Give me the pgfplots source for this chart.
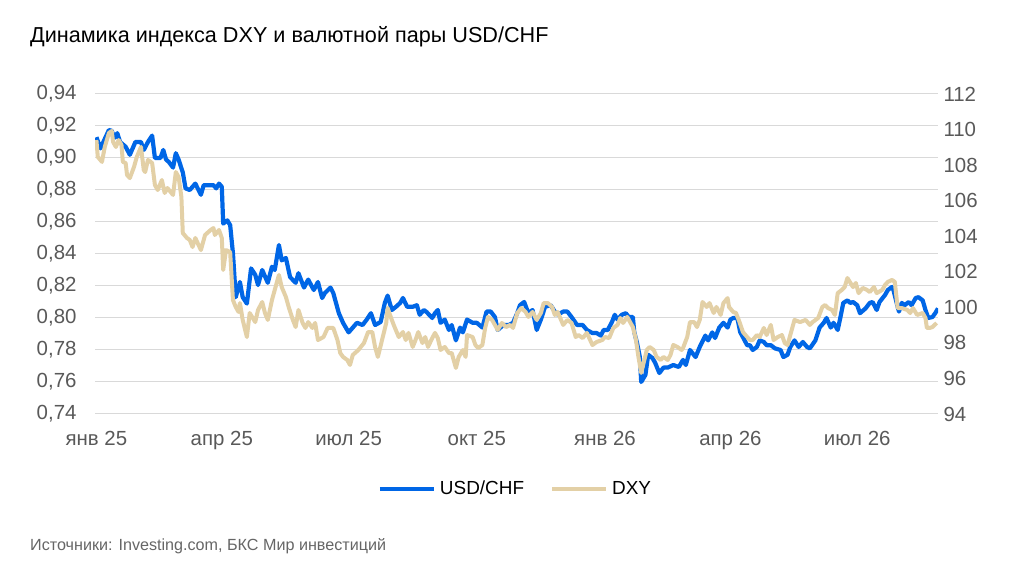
\documentclass[border=0pt]{standalone}
\usepackage{fontspec}
\setmainfont{Liberation Sans}
\usepackage{pgfplots}
\pgfplotsset{compat=1.18}
\definecolor{usdchf}{HTML}{0066E6}
\definecolor{dxy}{HTML}{E3D0A6}
\definecolor{gridc}{HTML}{D9D9D9}
\definecolor{tickc}{HTML}{595959}
\definecolor{srcc}{HTML}{666666}
\pgfplotstableread{
d v
0 0.913
3 0.906
5 0.910
9 0.9175
11 0.917
13 0.9125
15 0.9155
17 0.910
21 0.907
24 0.902
28 0.910
32 0.910
34 0.905
37 0.910
40 0.914
42 0.900
46 0.900
48 0.905
50 0.899
52 0.8975
55 0.894
57 0.903
59 0.899
62 0.891
64 0.881
67 0.880
71 0.884
75 0.877
77 0.883
80 0.883
84 0.883
86 0.881
88 0.884
90 0.882
91 0.859
94 0.861
96 0.858
98 0.8405
100 0.813
103 0.8225
105 0.813
108 0.809
111 0.831
114 0.827
116 0.8206
119 0.830
123 0.822
126 0.832
128 0.830
131 0.8456
133 0.836
136 0.8375
139 0.8256
143 0.822
145 0.828
149 0.819
152 0.824
156 0.8175
159 0.8225
162 0.8125
164 0.8156
168 0.819
170 0.8156
174 0.803
177 0.797
181 0.791
184 0.794
187 0.797
191 0.7956
194 0.799
197 0.803
200 0.7956
204 0.7975
207 0.8094
209 0.814
212 0.805
215 0.807
218 0.8094
220 0.8125
223 0.807
227 0.807
230 0.808
232 0.802
235 0.805
237 0.8037
241 0.800
243 0.803
245 0.805
247 0.797
250 0.799
253 0.7925
255 0.7956
258 0.786
261 0.794
263 0.791
266 0.799
270 0.797
273 0.797
277 0.794
280 0.804
283 0.804
286 0.8006
288 0.7925
292 0.7956
296 0.7956
299 0.797
302 0.803
304 0.808
307 0.810
310 0.803
313 0.805
316 0.7925
319 0.799
322 0.807
326 0.808
329 0.804
331 0.802
335 0.804
338 0.804
341 0.8006
345 0.7956
349 0.7956
352 0.7925
356 0.7906
359 0.7906
362 0.789
364 0.7925
367 0.7925
370 0.7975
372 0.802
374 0.799
377 0.802
380 0.803
382 0.8006
385 0.8006
386 0.7912
388 0.7844
390 0.7756
391 0.760
394 0.7644
396 0.777
399 0.775
401 0.772
404 0.7656
407 0.769
410 0.769
414 0.7706
418 0.7694
421 0.7738
423 0.7706
426 0.780
430 0.7756
433 0.7819
437 0.789
439 0.786
442 0.791
444 0.7875
447 0.794
450 0.797
453 0.794
455 0.799
457 0.800
460 0.800
462 0.7912
464 0.788
467 0.783
469 0.783
471 0.780
474 0.7819
476 0.786
479 0.785
481 0.783
484 0.783
487 0.781
491 0.780
493 0.7756
496 0.777
498 0.7819
501 0.786
504 0.7819
507 0.785
510 0.7819
512 0.781
516 0.786
519 0.794
522 0.797
524 0.800
527 0.794
529 0.797
532 0.7925
534 0.8006
536 0.8094
539 0.811
541 0.8094
543 0.810
546 0.808
548 0.803
552 0.806
555 0.8094
557 0.810
560 0.805
562 0.810
566 0.8144
568 0.8175
571 0.8194
572 0.8175
575 0.807
576 0.804
578 0.8094
580 0.808
583 0.810
585 0.808
588 0.8125
590 0.813
593 0.811
595 0.805
597 0.800
600 0.8006
602 0.803
604 0.806
}\usdchfdata
\pgfplotstableread{
d v
0 109.41
1 108.46
4 108.18
6 109.02
9 109.81
11 109.92
12 109.3
14 109.02
16 109.41
18 109.13
19 108.18
21 108.12
22 107.44
24 107.27
27 107.9
29 108.46
32 109.02
34 107.72
35 107.61
37 108.29
40 108.12
42 106.88
44 106.6
47 107.16
49 106.43
51 106.71
55 106.32
57 107.61
59 107.33
61 106.21
62 104.18
65 103.9
67 103.79
69 103.39
71 103.9
75 103.22
78 104.07
82 104.35
84 104.46
85 104.07
88 104.35
90 103.9
91 102.1
93 103.22
96 103.11
98 100.41
100 100.02
102 99.74
103 100.24
105 99.29
108 98.33
110 99.68
114 99.17
116 99.85
119 100.3
121 99.68
123 99.29
126 100.41
128 100.98
131 101.82
133 101.14
136 100.58
138 100.02
141 99.29
143 98.89
145 99.85
148 99.12
150 98.84
152 99.17
155 98.84
157 99.12
159 98.16
163 98.33
166 98.84
170 98.84
173 98.16
175 97.43
177 97.21
180 97.04
182 96.76
184 97.32
188 97.6
192 97.99
195 98.61
198 98.61
200 97.77
202 97.21
205 98.16
208 99.12
209 99.96
212 99.29
214 98.89
217 98.33
220 98.61
222 98.16
224 98.56
227 97.77
229 98.16
231 98.61
234 97.99
236 98.33
238 97.77
241 98.27
243 98.56
245 98.27
247 97.6
250 97.77
253 97.43
255 97.43
258 96.59
260 97.21
263 97.6
265 97.21
266 98.44
270 98.33
272 97.88
274 97.71
277 97.88
279 98.84
281 99.46
284 99.29
286 99.01
288 98.73
291 99.12
294 98.89
297 99.01
299 98.84
302 99.68
305 99.96
308 99.74
310 99.46
313 99.74
316 99.29
319 99.68
321 100.24
324 100.24
327 100.02
329 99.57
331 99.74
335 99.01
338 99.29
341 99.12
344 98.33
346 98.44
349 98.27
352 98.56
356 97.88
359 98.05
363 98.16
365 98.33
368 98.27
371 98.84
374 99.01
376 99.4
378 99.12
381 99.46
383 99.17
385 98.89
387 98.27
389 97.21
391 96.31
392 96.64
395 97.6
397 97.77
400 97.6
402 97.21
405 97.04
407 97.21
410 97.04
412 97.32
414 97.88
417 97.77
420 97.6
421 97.71
424 98.33
426 99.17
429 99.17
431 98.89
433 99.29
435 100.3
438 100.02
440 100.24
443 99.68
445 100.02
448 99.57
450 100.24
453 100.52
454 100.02
457 99.74
459 99.68
461 99.29
464 98.61
467 98.33
469 98.16
471 98.16
474 98.44
476 98.33
479 98.84
481 98.44
484 99.01
486 98.16
489 98.33
492 98.44
494 97.99
496 97.88
499 98.73
501 99.29
505 99.17
509 99.29
512 99.01
514 99.17
518 99.4
521 100.02
523 100.13
525 99.96
528 99.85
530 99.57
532 100.8
535 100.98
537 101.14
539 101.65
542 101.26
543 101.14
545 101.37
547 100.8
550 101.09
553 100.98
555 100.86
558 101.14
560 100.8
564 100.98
566 101.26
568 101.43
571 101.54
573 101.43
575 99.96
578 99.96
582 99.85
584 99.68
586 99.96
589 99.57
593 99.68
595 99.4
596 98.84
598 98.84
600 98.89
603 99.12
}\dxydata
\begin{document}
\begin{tikzpicture}[x=1bp,y=1bp]
\useasboundingbox[fill=white] (0,0) rectangle (1024,568);
\node[anchor=base west, inner sep=0pt, font=\fontsize{21.7}{25}\selectfont] at (30,525) {Динамика индекса DXY и валютной пары USD/CHF};
\node[anchor=base west, inner sep=0pt, text=srcc, font=\fontsize{16.2}{19}\selectfont] at (30,17) {Источники: Investing.com, БКС Мир инвестиций};
\pgfplotsset{
  every axis/.append style={
    at={(95bp,154bp)}, anchor=south west, scale only axis,
    width=843bp, height=320bp,
    xmin=-1, xmax=604,
    axis line style={draw=none},
    major tick length=0pt,
    tick label style={text=tickc, font=\fontsize{20.5}{24}\selectfont},
    /pgf/number format/assume math mode=true,
  }
}
\begin{axis}[
  ymin=0.74, ymax=0.94,
  ytick={0.74,0.76,0.78,0.80,0.82,0.84,0.86,0.88,0.90,0.92,0.94},
  yticklabel={\pgfmathprintnumber[use comma,fixed,fixed zerofill,precision=2]{\tick}},
  yticklabel style={xshift=-15bp},
  ymajorgrids, grid style={gridc, line width=1bp},
  xtick={0,90,181,273,365,455,546},
  xticklabels={янв 25,апр 25,июл 25,окт 25,янв 26,апр 26,июл 26},
  xticklabel style={yshift=-14bp},
]
\addplot[usdchf, line width=4.2bp, line join=round, no markers] table[x=d,y=v] {\usdchfdata};
\end{axis}
\begin{axis}[
  ymin=94, ymax=112,
  ytick={94,96,98,100,102,104,106,108,110,112},
  axis y line*=right, axis x line=none,
  yticklabel style={xshift=2bp},
  legend columns=2,
  legend style={draw=none, fill=none, at={(0.5,-0.234)}, anchor=center,
    font=\fontsize{19}{22}\selectfont,
    nodes={inner xsep=4bp, inner ysep=2bp},
    /tikz/every even column/.append style={column sep=22bp}},
  legend image code/.code={\draw[#1] (0bp,0bp) -- (54bp,0bp);},
]
\addlegendimage{usdchf, line width=4bp}
\addlegendentry{USD/CHF}
\addplot[dxy, line width=4bp, line join=round, no markers] table[x=d,y=v] {\dxydata};
\addlegendentry{DXY}
\end{axis}
\end{tikzpicture}
\end{document}
